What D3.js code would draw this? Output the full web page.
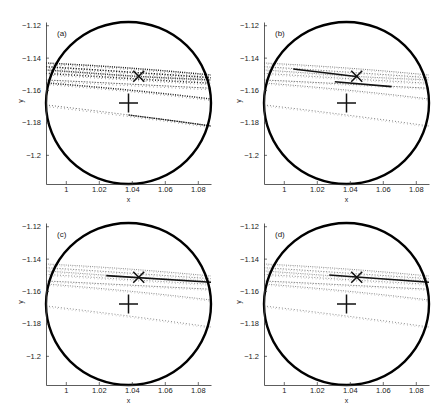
<!DOCTYPE html>
<html>
<head>
<meta charset="utf-8">
<script src="https://cdn.jsdelivr.net/npm/d3@7"></script>
<style>
  body { margin: 0; background: #fff; }
  text { font-family: "Liberation Sans", Arial, sans-serif; fill: #222; }
</style>
</head>
<body>
<script>
// four panels of trajectories inside the capture circle

const panelNames = ["(a)", "(b)", "(c)", "(d)"];
const xTicks = [1, 1.02, 1.04, 1.06, 1.08];
const yTicks = [-1.12, -1.14, -1.16, -1.18, -1.2];
const xTickLabels = ["1", "1.02", "1.04", "1.06", "1.08"];
const yTickLabels = ["\u22121.12", "\u22121.14", "\u22121.16", "\u22121.18", "\u22121.2"];

// sample x positions for each trajectory, and the y values there
const sampleX = [0.988, 1.013, 1.038, 1.063, 1.088];
const traj1 = [-1.1433, -1.1447, -1.1464, -1.1484, -1.1507];
const traj2 = [-1.1456, -1.1472, -1.1489, -1.1506, -1.1524];
const traj3 = [-1.1476, -1.1494, -1.1512, -1.1526, -1.1538];
const traj4 = [-1.1497, -1.1513, -1.1529, -1.1544, -1.1558];
const traj5 = [-1.1538, -1.1550, -1.1563, -1.1576, -1.1589];
const traj6 = [-1.1556, -1.1577, -1.1600, -1.1626, -1.1655];
const traj7 = [-1.1692, -1.1722, -1.1754, -1.1787, -1.1822];
const trajectories = [traj1, traj2, traj3, traj4, traj5, traj6, traj7];

// solid stretches drawn on top, per panel
const segsA = [];
const segsB = [[[1.0057, -1.1470], [1.0451, -1.1518]],
               [[1.0309, -1.1549], [1.0653, -1.1579]]];
const segsC = [[[1.0245, -1.1505], [1.0880, -1.1546]]];
const segsD = [[[1.0275, -1.1501], [1.0880, -1.1546]]];
const segments = [segsA, segsB, segsC, segsD];

const circle = [1.038, -1.168, 0.05];    // centre x, centre y, radius
const plusPoint = [1.038, -1.168];
const crossPoint = [1.0442, -1.1515];

const xDomain = [0.988, 1.088];
const yDomain = [-1.218, -1.118];

const W = 440, H = 406;
const pw = 165, ph = 162;
const origins = [[46, 22], [264, 22], [46, 223], [264, 223]];

const svg = d3.select("body").append("svg")
    .attr("width", W)
    .attr("height", H);

svg.append("rect").attr("width", W).attr("height", H).attr("fill", "#fff");

const x = d3.scaleLinear().domain(xDomain).range([0, pw]);
const y = d3.scaleLinear().domain(yDomain).range([ph, 0]);

const line = d3.line()
    .x(d => x(d[0]))
    .y(d => y(d[1]))
    .curve(d3.curveNatural);

// look of the dotted trajectories in each panel
const heavyA = [1, 1, 1, 1, 0, 1, 0];
const dashes = ["1,1.2", "1.2,1.5", "0.8,1", "1,1.8", "1.5,1.2", "1,1.4", "1,2"];

panelNames.forEach((name, p) => {
  const g = svg.append("g")
      .attr("transform", "translate(" + origins[p][0] + "," + origins[p][1] + ")");

  g.append("clipPath").attr("id", "clip" + p)
    .append("rect").attr("width", pw).attr("height", ph);

  const plot = g.append("g").attr("clip-path", "url(#clip" + p + ")");

  // trajectories
  trajectories.forEach((t, i) => {
    const pts = sampleX.map((sx, k) => [sx, t[k]]);
    let col = "#777", sw = 0.9;
    if (p === 0) {
      col = heavyA[i] ? "#1a1a1a" : "#666";
      sw = heavyA[i] ? 1.5 : 1.0;
    } else if (p === 1) {
      col = "#707070"; sw = 0.9;
    } else {
      col = "#808080"; sw = 0.9;
    }
    plot.append("path")
      .attr("d", line(pts))
      .attr("fill", "none")
      .attr("stroke", col)
      .attr("stroke-width", sw)
      .attr("stroke-dasharray", dashes[i]);
    // a second, offset strand so the bands look grainy
    plot.append("path")
      .attr("d", line(pts))
      .attr("fill", "none")
      .attr("stroke", p === 0 ? "#444" : "#999")
      .attr("stroke-width", 0.7)
      .attr("stroke-dasharray", "0.7,3")
      .attr("transform", "translate(0," + (p === 0 ? 1.6 : 1.3) + ")");
  });

  // bottom trajectory darker on the right in (a)
  if (p === 0) {
    const pts = sampleX.map((sx, k) => [sx, traj7[k]]).slice(2);
    plot.append("path")
      .attr("d", line(pts))
      .attr("fill", "none")
      .attr("stroke", "#222")
      .attr("stroke-width", 1.4)
      .attr("stroke-dasharray", "1.5,0.8");
  }

  segments[p].forEach(s => {
    plot.append("path")
      .attr("d", d3.line().x(d => x(d[0])).y(d => y(d[1]))(s))
      .attr("fill", "none")
      .attr("stroke", "#111")
      .attr("stroke-width", 1.6);
  });

  // capture circle
  g.append("ellipse")
    .attr("cx", x(circle[0]))
    .attr("cy", y(circle[1]))
    .attr("rx", x(circle[0] + circle[2]) - x(circle[0]))
    .attr("ry", y(circle[1] - circle[2]) - y(circle[1]))
    .attr("fill", "none")
    .attr("stroke", "#000")
    .attr("stroke-width", 2.4);

  // plus marker
  const px = x(plusPoint[0]), py = y(plusPoint[1]);
  g.append("path")
    .attr("d", "M" + (px - 9.5) + "," + py + "H" + (px + 9.5) + "M" + px + "," + (py - 9.5) + "V" + (py + 9.5))
    .attr("stroke", "#111")
    .attr("stroke-width", 1.5);

  // cross marker
  const cx = x(crossPoint[0]), cy = y(crossPoint[1]);
  g.append("path")
    .attr("d", "M" + (cx - 5.5) + "," + (cy - 5.5) + "L" + (cx + 5.5) + "," + (cy + 5.5) +
               "M" + (cx - 5.5) + "," + (cy + 5.5) + "L" + (cx + 5.5) + "," + (cy - 5.5))
    .attr("stroke", "#111")
    .attr("stroke-width", 1.5);

  // axes
  const xAxis = g.append("g")
      .attr("transform", "translate(0," + ph + ")")
      .call(d3.axisBottom(x).tickValues(xTicks)
        .tickFormat((d, i) => xTickLabels[i]).tickSizeInner(-3).tickSizeOuter(0).tickPadding(3));
  const yAxis = g.append("g")
      .call(d3.axisLeft(y).tickValues(yTicks)
        .tickFormat((d, i) => yTickLabels[i]).tickSizeInner(-3).tickSizeOuter(0).tickPadding(5));

  [xAxis, yAxis].forEach(a => {
    a.select(".domain").attr("stroke", "#333").attr("stroke-width", 0.8);
    a.selectAll(".tick line").attr("stroke", "#333").attr("stroke-width", 0.7);
    a.selectAll("text").attr("font-size", 7.5).attr("fill", "#222")
      .attr("font-family", "Liberation Sans, Arial, sans-serif");
  });

  g.append("text")
    .attr("x", pw / 2)
    .attr("y", ph + 18)
    .attr("text-anchor", "middle")
    .attr("font-size", 7)
    .text("x");

  g.append("text")
    .attr("transform", "translate(-23," + (ph / 2 - 2) + ")rotate(-90)")
    .attr("text-anchor", "middle")
    .attr("font-size", 7)
    .text("y");

  g.append("text")
    .attr("x", 11)
    .attr("y", 14)
    .attr("font-size", 8)
    .text(name);
});
</script>
</body>
</html>
